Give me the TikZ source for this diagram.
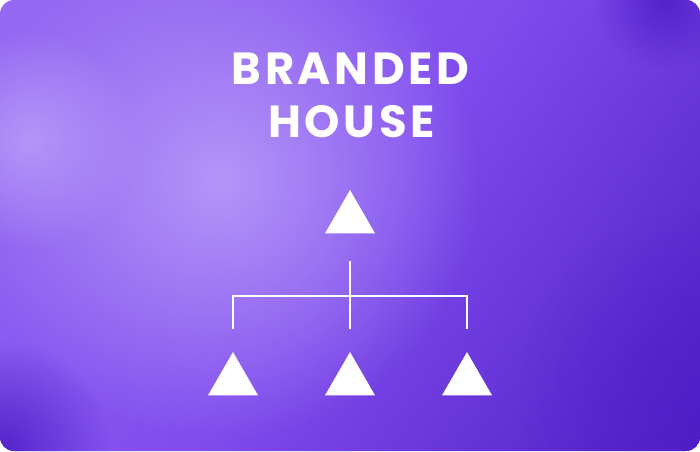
\documentclass[tikz,border=0pt]{standalone}
\usepackage{fontspec}
\setmainfont{Poppins}
\usetikzlibrary{fadings,shapes.geometric}
\definecolor{bgA}{HTML}{9A6EF4}
\definecolor{bgB}{HTML}{804CEE}
\definecolor{bgC}{HTML}{4816BE}
\definecolor{lightspot}{HTML}{B496F8}
\definecolor{darkspot}{HTML}{4E1CC6}
\tikzfading[name=spotfade, inner color=transparent!0, outer color=transparent!100]
\tikzset{
  tri/.style={regular polygon, regular polygon sides=3, fill=white, draw=none,
    inner sep=0pt, minimum size=57.7pt},
  conn/.style={draw=white, line width=2.3pt},
  title/.style={text=white, font=\fontsize{45}{45}\selectfont\bfseries, anchor=base, inner sep=0pt}
}
\begin{document}
\begin{tikzpicture}[x=1pt,y=1pt]
\useasboundingbox (0,0) rectangle (700,451);
\begin{scope}
  \clip[rounded corners=14pt] (0,0) rectangle (700,451);
  \shade[shading=axis, top color=bgA, bottom color=bgC, middle color=bgB, shading angle=55] (-150,-250) rectangle (850,700);
  \fill[lightspot, path fading=spotfade] (220,271) circle (260);
  \fill[lightspot, path fading=spotfade] (30,311) circle (110);
  \fill[darkspot, path fading=spotfade, opacity=0.9] (0,0) circle (110);
  \fill[darkspot, path fading=spotfade, opacity=0.8] (665,451) circle (70);
  \fill[darkspot, path fading=spotfade, opacity=0.5] (700,60) circle (180);
\end{scope}
% title
\node[title] (t1) at (350.5,367) {\addfontfeature{LetterSpace=8}BRANDED};
\node[title] (t2) at (351.5,314) {\addfontfeature{LetterSpace=8}HOUSE};
% triangles
\node[tri] (top) at (350,232.1) {};
\node[tri] (c1) at (233,70.1) {};
\node[tri] (c2) at (350,70.1) {};
\node[tri] (c3) at (467,70.1) {};
% connectors
\coordinate (stub) at (350,190);
\coordinate (hub) at (350,155);
\coordinate (d1) at (233,122);
\coordinate (d2) at (350,122);
\coordinate (d3) at (467,122);
\draw[conn] (stub) -- (d2);
\draw[conn] (d1) |- (hub) -| (d3);
\end{tikzpicture}
\end{document}
